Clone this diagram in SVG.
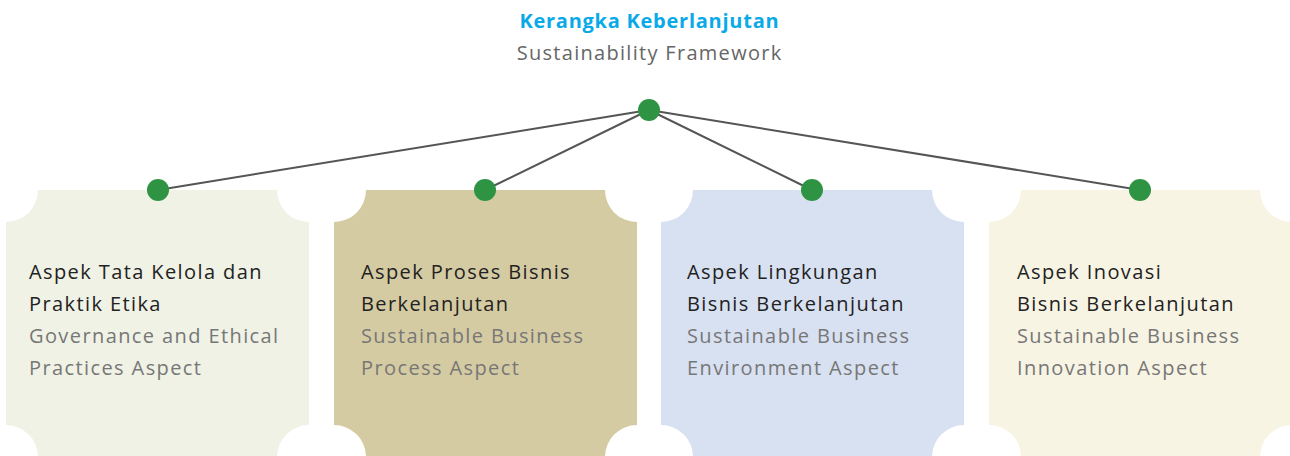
<svg xmlns="http://www.w3.org/2000/svg" width="1290" height="456" viewBox="0 0 1290 456">
<defs>
<style>
.t{font-family:"Open Sans","Liberation Sans",sans-serif;font-size:20px;letter-spacing:1.4px}
.d{fill:#222}
.g{fill:#777}
.dot{fill:#2E9444}
.c{stroke:#555;stroke-width:2;fill:none}
</style>
<path id="box" d="M32,0 H271 A32,32 0 0 0 303,32 V235 A32,32 0 0 0 271,267 H32 A32,32 0 0 0 0,235 V32 A32,32 0 0 0 32,0 Z"/>
</defs>
<rect width="1290" height="456" fill="#fff"/>
<g id="title">
<text class="t" x="649.4" y="28" text-anchor="middle" font-weight="bold" fill="#0AAAE8" style="letter-spacing:0.75px">Kerangka Keberlanjutan</text>
<text class="t" x="649.6" y="60" text-anchor="middle" fill="#666" style="letter-spacing:1.3px">Sustainability Framework</text>
</g>
<g id="box1">
<use href="#box" x="6" y="190" fill="#EFF2E5"/>
<text class="t d" x="29" y="279">Aspek Tata Kelola dan</text>
<text class="t d" x="29" y="311">Praktik Etika</text>
<text class="t g" x="29" y="343">Governance and Ethical</text>
<text class="t g" x="29" y="375">Practices Aspect</text>
</g>
<g id="box2">
<use href="#box" x="334" y="190" fill="#D5CBA3"/>
<text class="t d" x="361" y="279">Aspek Proses Bisnis</text>
<text class="t d" x="361" y="311">Berkelanjutan</text>
<text class="t g" x="361" y="343">Sustainable Business</text>
<text class="t g" x="361" y="375">Process Aspect</text>
</g>
<g id="box3">
<use href="#box" x="661" y="190" fill="#D8E1F1"/>
<text class="t d" x="687" y="279">Aspek Lingkungan</text>
<text class="t d" x="687" y="311">Bisnis Berkelanjutan</text>
<text class="t g" x="687" y="343">Sustainable Business</text>
<text class="t g" x="687" y="375">Environment Aspect</text>
</g>
<g id="box4">
<use href="#box" x="989" y="190" fill="#F8F4E4"/>
<text class="t d" x="1017" y="279">Aspek Inovasi</text>
<text class="t d" x="1017" y="311">Bisnis Berkelanjutan</text>
<text class="t g" x="1017" y="343">Sustainable Business</text>
<text class="t g" x="1017" y="375">Innovation Aspect</text>
</g>
<g id="connectors">
<line class="c" x1="649" y1="110" x2="158" y2="190"/>
<line class="c" x1="649" y1="110" x2="485" y2="190"/>
<line class="c" x1="649" y1="110" x2="812" y2="190"/>
<line class="c" x1="649" y1="110" x2="1140" y2="190"/>
</g>
<g id="dots">
<circle class="dot" cx="649" cy="110" r="11"/>
<circle class="dot" cx="158" cy="190" r="11"/>
<circle class="dot" cx="485" cy="190" r="11"/>
<circle class="dot" cx="812" cy="190" r="11"/>
<circle class="dot" cx="1140" cy="190" r="11"/>
</g>
</svg>
